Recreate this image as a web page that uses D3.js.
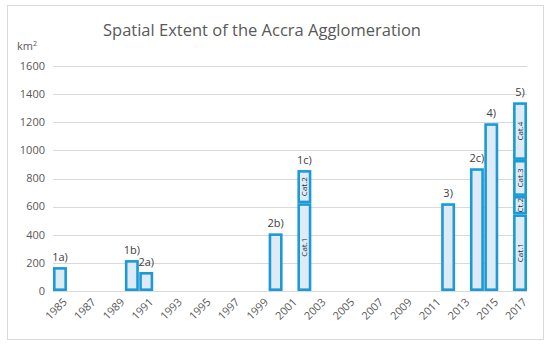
<!DOCTYPE html>
<html>
<head>
<meta charset="utf-8">
<script src="https://cdn.jsdelivr.net/npm/d3@7"></script>
<style>
  body { margin: 0; background: #fff; }
  text { font-family: "Open Sans", sans-serif; }
</style>
</head>
<body>
<svg id="chart" width="550" height="346"></svg>
<script>
// years on the category axis
var years = d3.range(1985, 2018);
var yearLabels = years.filter(function (y) { return y % 2 === 1; });
// bars: year, label, segment tops (cumulative, km2)
var barYears = [1985, 1990, 1991, 2000, 2002, 2012, 2014, 2015, 2017];
var barNames = ["1a)", "1b)", "2a)", "2b)", "1c)", "3)", "2c)", "4)", "5)"];
var barTops = [[170], [220], [135], [410], [624, 860], [624], [873], [1193], [545, 676, 932, 1342]];
var yTicks = [0, 200, 400, 600, 800, 1000, 1200, 1400, 1600];

var svg = d3.select("#chart");
var margin = { left: 53, right: 23, top: 66, bottom: 55 };
var W = 550, H = 346;

// chart frame
svg.append("rect")
    .attr("x", 7.5).attr("y", 5.5)
    .attr("width", 536).attr("height", 334)
    .attr("fill", "#fff")
    .attr("stroke", "#d9d9d9");

var x = d3.scaleBand()
    .domain(years)
    .range([margin.left, W - margin.right])
    .paddingInner(0.03);

var y = d3.scaleLinear()
    .domain([0, 1600])
    .range([H - margin.bottom, margin.top]);

// gridlines
svg.append("g")
    .selectAll("line")
    .data(yTicks)
    .enter()
    .append("line")
    .attr("x1", margin.left)
    .attr("x2", W - margin.right)
    .attr("y1", function (d) { return Math.round(y(d)) + 0.5; })
    .attr("y2", function (d) { return Math.round(y(d)) + 0.5; })
    .attr("stroke", "#d9d9d9")
    .attr("stroke-width", 1);

// y tick labels
svg.append("g")
    .selectAll("text")
    .data(yTicks)
    .enter()
    .append("text")
    .attr("x", 45)
    .attr("y", function (d) { return y(d); })
    .attr("dy", "0.35em")
    .attr("text-anchor", "end")
    .attr("font-size", 11)
    .attr("fill", "#595959")
    .text(function (d) { return d; });

// x tick labels (rotated)
svg.append("g")
    .selectAll("text")
    .data(yearLabels)
    .enter()
    .append("text")
    .attr("transform", function (d) {
        return "translate(" + (x(d) + x.bandwidth() / 2 + 5) + "," + 300 + ") rotate(-45)";
    })
    .attr("text-anchor", "end")
    .attr("dy", "0.35em")
    .attr("font-size", 11)
    .attr("fill", "#595959")
    .text(function (d) { return d; });

// bars, one rect per segment
var sw = 2.6;
var bars = barYears.map(function (yr, i) {
    return { year: yr, name: barNames[i], tops: barTops[i] };
});
var g = svg.append("g");
bars.forEach(function (b) {
    var x0 = x(b.year);
    var bw = x.bandwidth();
    var prev = 0;
    b.tops.forEach(function (t, j) {
        var yt = y(t), yb = y(prev);
        g.append("rect")
            .attr("x", x0 + sw / 2)
            .attr("y", yt + sw / 2)
            .attr("width", bw - sw)
            .attr("height", yb - yt - sw)
            .attr("fill", "#deebf7")
            .attr("stroke", "#1a9ad6")
            .attr("stroke-width", sw);
        if (b.tops.length > 1) {
            var label = (b.year === 2017 && j === 1) ? "Ct.2" : "Cat." + (j + 1);
            var cx = x0 + bw / 2, cy = (yt + yb) / 2;
            var lab = g.append("text")
                .attr("transform", "translate(" + (cx + 3) + "," + cy + ") rotate(-90)")
                .attr("text-anchor", "middle")
                .attr("font-size", 8)
                .attr("fill", "#262626")
                .text(label);
        }
        prev = t;
    });
    // bar name label above
    svg.append("text")
        .attr("x", x0 + bw / 2)
        .attr("y", y(b.tops[b.tops.length - 1]) - 6)
        .attr("text-anchor", "middle")
        .attr("font-size", 11)
        .attr("fill", "#404040")
        .text(b.name);
});

// title
svg.append("text")
    .attr("x", 262)
    .attr("y", 36)
    .attr("text-anchor", "middle")
    .attr("font-size", 16.5)
    .attr("fill", "#595959")
    .text("Spatial Extent of the Accra Agglomeration");

// unit
var unit = svg.append("text")
    .attr("x", 17)
    .attr("y", 50)
    .attr("font-size", 11)
    .attr("fill", "#595959");
unit.append("tspan").text("km");
unit.append("tspan").attr("font-size", 7).attr("dy", -4).text("2");
</script>
</body>
</html>
